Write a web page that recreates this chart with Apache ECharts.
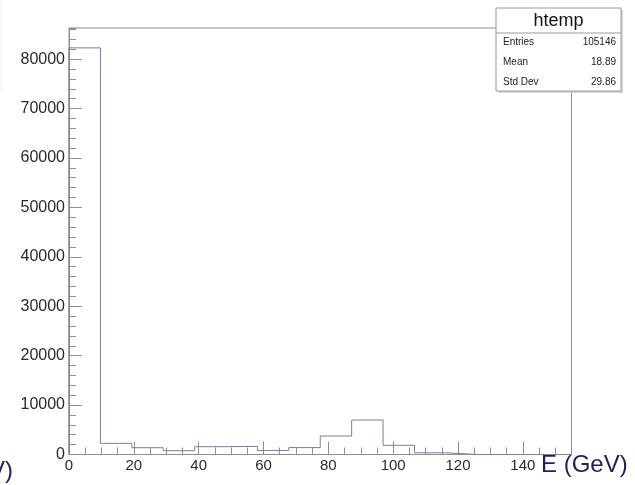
<!DOCTYPE html>
<html>
<head>
<meta charset="utf-8">
<script src="https://cdn.jsdelivr.net/npm/echarts@6/dist/echarts.min.js"></script>
<style>
html,body{margin:0;padding:0;background:#fff;}
#chart{width:635px;height:485px;}
</style>
</head>
<body>
<div id="chart"></div>
<script>
// ---- data ----
const histName = 'htemp';
const xMin = 0;
const xMax = 155;
const binCounts = [82280, 2260, 1370, 770, 1580, 1650, 800, 1400, 3740, 6970, 1860, 350, 0, 0, 0, 0];
const yMax = 86300;
const statLabels = ['Entries', 'Mean', 'Std Dev'];
const statValues = ['105146', '18.89', '29.86'];
const xTitle = 'E (GeV)';

const binWidth = (xMax - xMin) / binCounts.length;
const stepData = [[xMin, 0]];
binCounts.forEach((c, i) => stepData.push([xMin + i * binWidth, c]));
stepData.push([xMax, 0]);

const FONT = '"Liberation Sans", Arial, Helvetica, sans-serif';
const AXIS = '#8f8f8f';
const HIST = '#7d7d9e';
const TITLE = '#1f1f5c';

const chart = echarts.init(document.getElementById('chart'), null, {renderer: 'canvas'});
chart.setOption({
  animation: false,
  backgroundColor: '#fff',
  grid: {left: 69, right: 63.5, top: 28, bottom: 30.5, show: true,
         borderColor: AXIS, borderWidth: 1, backgroundColor: 'transparent'},
  xAxis: [
    {type: 'value', min: xMin, max: xMax, interval: 20, position: 'bottom',
     axisLine: {show: true, onZero: false, lineStyle: {color: AXIS, width: 1}},
     axisTick: {show: true, inside: true, length: 13, lineStyle: {color: AXIS}},
     axisLabel: {show: true, margin: 4, fontSize: 15, color: '#2a2a2a', fontFamily: FONT,
                 showMaxLabel: false, showMinLabel: true, formatter: v => String(v)},
     splitLine: {show: false}},
    {type: 'value', min: xMin, max: xMax, interval: 5, position: 'bottom',
     axisLine: {show: false, onZero: false},
     axisTick: {show: true, inside: true, length: 7, lineStyle: {color: AXIS}},
     axisLabel: {show: false}, splitLine: {show: false}}
  ],
  yAxis: [
    {type: 'value', min: 0, max: yMax, interval: 10000, position: 'left',
     axisLine: {show: true, onZero: false, lineStyle: {color: AXIS, width: 1}},
     axisTick: {show: true, inside: true, length: 13, lineStyle: {color: AXIS}},
     axisLabel: {show: true, margin: 4, fontSize: 16, color: '#2a2a2a', fontFamily: FONT,
                 showMaxLabel: false, formatter: v => String(v)},
     splitLine: {show: false}},
    {type: 'value', min: 0, max: yMax, interval: 2000, position: 'left',
     axisLine: {show: false, onZero: false},
     axisTick: {show: true, inside: true, length: 7, lineStyle: {color: AXIS}},
     axisLabel: {show: false}, splitLine: {show: false}}
  ],
  series: [{
    type: 'line', xAxisIndex: 0, yAxisIndex: 0, step: 'end',
    data: stepData, showSymbol: false, symbol: 'none',
    lineStyle: {color: HIST, width: 1}, z: 3
  }],
  graphic: [
    {type: 'line', shape: {x1: 1, y1: 0, x2: 1, y2: 90}, style: {stroke: '#ececec', lineWidth: 1}, z: 1},
    {type: 'rect', shape: {x: 498, y: 10, width: 125, height: 83}, style: {fill: '#d8d8d8'}, z: 10},
    {type: 'rect', shape: {x: 496, y: 8, width: 125, height: 83}, style: {fill: '#fff', stroke: '#9a9a9a', lineWidth: 1}, z: 11},
    {type: 'line', shape: {x1: 496, y1: 33, x2: 621, y2: 33}, style: {stroke: '#9a9a9a', lineWidth: 1}, z: 12},
    {type: 'text', x: 558.5, y: 21, z: 12, style: {text: histName, fill: '#111', font: '18px ' + FONT, align: 'center', verticalAlign: 'middle'}},
    ...statLabels.map((t, i) => ({type: 'text', x: 503, y: 42 + i * 20, z: 12,
      style: {text: t, fill: '#222', font: '10px ' + FONT, align: 'left', verticalAlign: 'middle'}})),
    ...statValues.map((t, i) => ({type: 'text', x: 616, y: 42 + i * 20, z: 12,
      style: {text: t, fill: '#222', font: '10px ' + FONT, align: 'right', verticalAlign: 'middle'}})),
    {type: 'text', x: 541, y: 465, z: 12, style: {text: xTitle, fill: TITLE, font: '24px ' + FONT, align: 'left', verticalAlign: 'middle'}},
    {type: 'text', x: 13, y: 471, z: 12, style: {text: xTitle, fill: TITLE, font: '24px ' + FONT, align: 'right', verticalAlign: 'middle'}}
  ]
});
</script>
</body>
</html>
